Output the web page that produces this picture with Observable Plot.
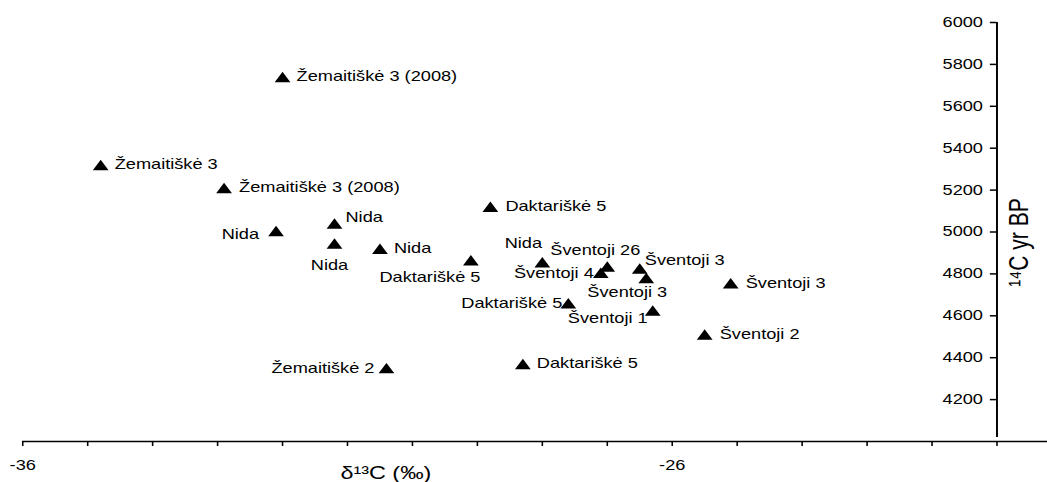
<!DOCTYPE html>
<html>
<head>
<meta charset="utf-8">
<script src="https://cdn.jsdelivr.net/npm/d3@7"></script>
<script src="https://cdn.jsdelivr.net/npm/@observablehq/plot@0.6"></script>
<style>
  html, body { margin: 0; padding: 0; background: #fff; }
  #chart svg { display: block; }
</style>
</head>
<body>
<div id="chart"></div>
<script>
// ---- data ----
const sites = [
  "Žemaitiškė 3 (2008)", "Žemaitiškė 3", "Žemaitiškė 3 (2008)",
  "Nida", "Nida", "Nida", "Nida",
  "Daktariškė 5", "Daktariškė 5", "Žemaitiškė 2", "Nida",
  "Šventoji 26", "Šventoji 4", "Šventoji 3", "Šventoji 3",
  "Daktariškė 5", "Šventoji 1", "Šventoji 3", "Šventoji 2", "Daktariškė 5"
];
const d13C = [
  -32.0, -34.8, -32.9,
  -31.2, -32.1, -31.2, -30.5,
  -29.1, -28.8, -30.4, -28.0,
  -27.0, -27.1, -26.5, -26.4,
  -27.6, -26.3, -25.1, -25.5, -28.3
];
const c14BP = [
  5740, 5320, 5210,
  5040, 5005, 4945, 4920,
  4865, 5120, 4350, 4855,
  4835, 4805, 4825, 4780,
  4660, 4625, 4755, 4510, 4370
];
const xTickValues = [-36, -35, -34, -33, -32, -31, -30, -29, -28, -27, -26, -25, -24, -23, -22, -21];
const xTickLabels = [-36, -26];
const yTickValues = [4200, 4400, 4600, 4800, 5000, 5200, 5400, 5600, 5800, 6000];
const xTitle = "δ¹³C (‰)";
const yTitle = "¹⁴C yr BP";

// ---- label placement (anchor, dx, dy in screen pixels) ----
const labelPlacement = [
  ["start", 14, 0], ["start", 14, 0], ["start", 15, 0],
  ["start", 11, -6], ["end", -17, 4], ["middle", -5, 22], ["start", 14, 0],
  ["middle", -41, 17], ["start", 15, 0], ["end", -12, 0], ["middle", -19, -19],
  ["middle", -12, -16], ["end", -7, 1], ["start", 5, -8], ["middle", -19, 14],
  ["end", -6, 0], ["middle", -45, 8], ["start", 15, 0], ["start", 15, 0], ["start", 14, 0]
];

// ---- layout ----
const FINAL_W = 1047, H = 482;
const W = 806;                 // drawn narrower, then stretched horizontally like the reference
const S = FINAL_W / W;
const marginLeft = 17, marginRight = 39, marginTop = 22, marginBottom = 41;
const font = "'Liberation Sans', Arial, Helvetica, sans-serif";

const rows = sites.map((s, i) => ({site: s, x: d13C[i], y: c14BP[i]}));

const labelMarks = rows.map((r, i) => {
  const [anchor, dx, dy] = labelPlacement[i];
  return Plot.text([r], {
    x: "x", y: "y", text: "site",
    textAnchor: anchor, dx: dx / S, dy: dy,
    fontSize: 14, fill: "#000"
  });
});

const plot = Plot.plot({
  width: W,
  height: H,
  marginLeft, marginRight, marginTop, marginBottom,
  style: {fontFamily: font, background: "#fff", color: "#000"},
  x: {domain: [-36, -21], axis: null},
  y: {domain: [4000, 6000], axis: null},
  marks: [
    // x axis: ticks and labels
    Plot.axisX({
      anchor: "bottom",
      ticks: xTickValues,
      tickSize: 5,
      tickPadding: 14,
      tickFormat: d => xTickLabels.includes(d) ? String(d) : "",
      fontSize: 14,
      label: null,
      stroke: "#000",
      strokeWidth: 1.2
    }),
    // x axis line, running to the right edge
    Plot.ruleY([4000], {x1: -36, x2: -21, insetRight: -marginRight, stroke: "#000", strokeWidth: 1.5}),
    // y axis line on the right
    Plot.ruleX([-21], {y1: 4000, y2: 6000, insetTop: -4, stroke: "#000", strokeWidth: 1.5}),
    // y ticks pointing inward (left)
    Plot.ruleY(yTickValues, {y: d => d, x1: -21, x2: -21, insetLeft: -5, stroke: "#000", strokeWidth: 1.5}),
    // y tick labels
    Plot.text(yTickValues, {x: -21, y: d => d, text: d => String(d), dx: -14 / S, textAnchor: "end", fontSize: 14, fill: "#000"}),
    // axis titles
    Plot.text([xTitle], {frameAnchor: "bottom", text: d => d, textAnchor: "middle", lineAnchor: "middle",
      dx: (385 - (22 + 996) / 2) / S, dy: 32, fontSize: 18, fill: "#000"}),
    Plot.text([yTitle], {frameAnchor: "right", text: d => d, rotate: -90, textAnchor: "middle", lineAnchor: "middle",
      dx: (1018 - 996) / S, dy: 242 - (22 + 441) / 2, fontSize: 21, fill: "#000"}),
    // points
    Plot.dot(rows, {x: "x", y: "y", symbol: "triangle", r: 4.5, fill: "#000", stroke: "none", dy: 1.7}),
    ...labelMarks
  ]
});

plot.setAttribute("width", FINAL_W);
plot.setAttribute("height", H);
plot.setAttribute("preserveAspectRatio", "none");
plot.style.width = FINAL_W + "px";
plot.style.height = H + "px";
plot.style.maxWidth = "none";
document.getElementById("chart").appendChild(plot);
</script>
</body>
</html>
